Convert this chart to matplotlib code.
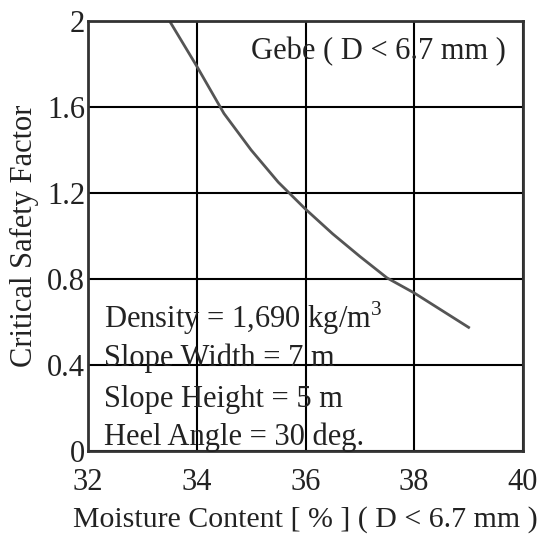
import matplotlib.pyplot as plt
import numpy as np

# moisture content [%] vs critical safety factor
moisture = [33.5, 34.0, 34.5, 35.0, 35.5, 36.0, 36.5, 37.0, 37.5, 38.0, 38.5, 39.0]
safety = [2.0, 1.79, 1.57, 1.40, 1.25, 1.125, 1.01, 0.905, 0.805, 0.735, 0.655, 0.575]

xticks = [32, 34, 36, 38, 40]
yticks = [0, 0.4, 0.8, 1.2, 1.6, 2]
ytick_labels = ['0', '0.4', '0.8', '1.2', '1.6', '2']

notes = ['Density = 1,690 kg/m$^3$', 'Slope Width = 7 m', 'Slope Height = 5 m', 'Heel Angle = 30 deg.']
note_y = [0.57, 0.395, 0.205, 0.03]

plt.rcParams['font.family'] = ['Liberation Serif', 'DejaVu Serif']
plt.rcParams['mathtext.fontset'] = 'custom'
plt.rcParams['mathtext.rm'] = 'Liberation Serif'

fig = plt.figure(figsize=(5.41, 5.35), dpi=100)
ax = fig.add_axes([88 / 541, 1 - 451 / 535, 435 / 541, 430 / 535])

ax.plot(moisture, safety, color='#555555', linewidth=2)

ax.set_xlim(32, 40)
ax.set_ylim(0, 2)
ax.set_xticks(xticks)
ax.set_yticks(yticks)
ax.set_yticklabels(ytick_labels)
ax.grid(True, color='black', linewidth=1.5)
ax.tick_params(length=0, labelsize=22, colors='#222222')
ax.tick_params(axis='y', pad=2)
ax.tick_params(axis='x', pad=12)
for s in ax.spines.values():
    s.set_linewidth(2)
    s.set_color('#333333')

ax.set_xlabel('Moisture Content [ % ] ( D < 6.7 mm )', fontsize=21.5, color='#222222', labelpad=7)
ax.set_ylabel('Critical Safety Factor', fontsize=22, color='#222222', labelpad=6)

ax.text(35.0, 1.82, 'Gebe ( D < 6.7 mm )', fontsize=22, color='#222222')
for t, y in zip(notes, note_y):
    ax.text(32.3, y, t, fontsize=22, color='#222222')

plt.savefig('out.png', dpi=100)
